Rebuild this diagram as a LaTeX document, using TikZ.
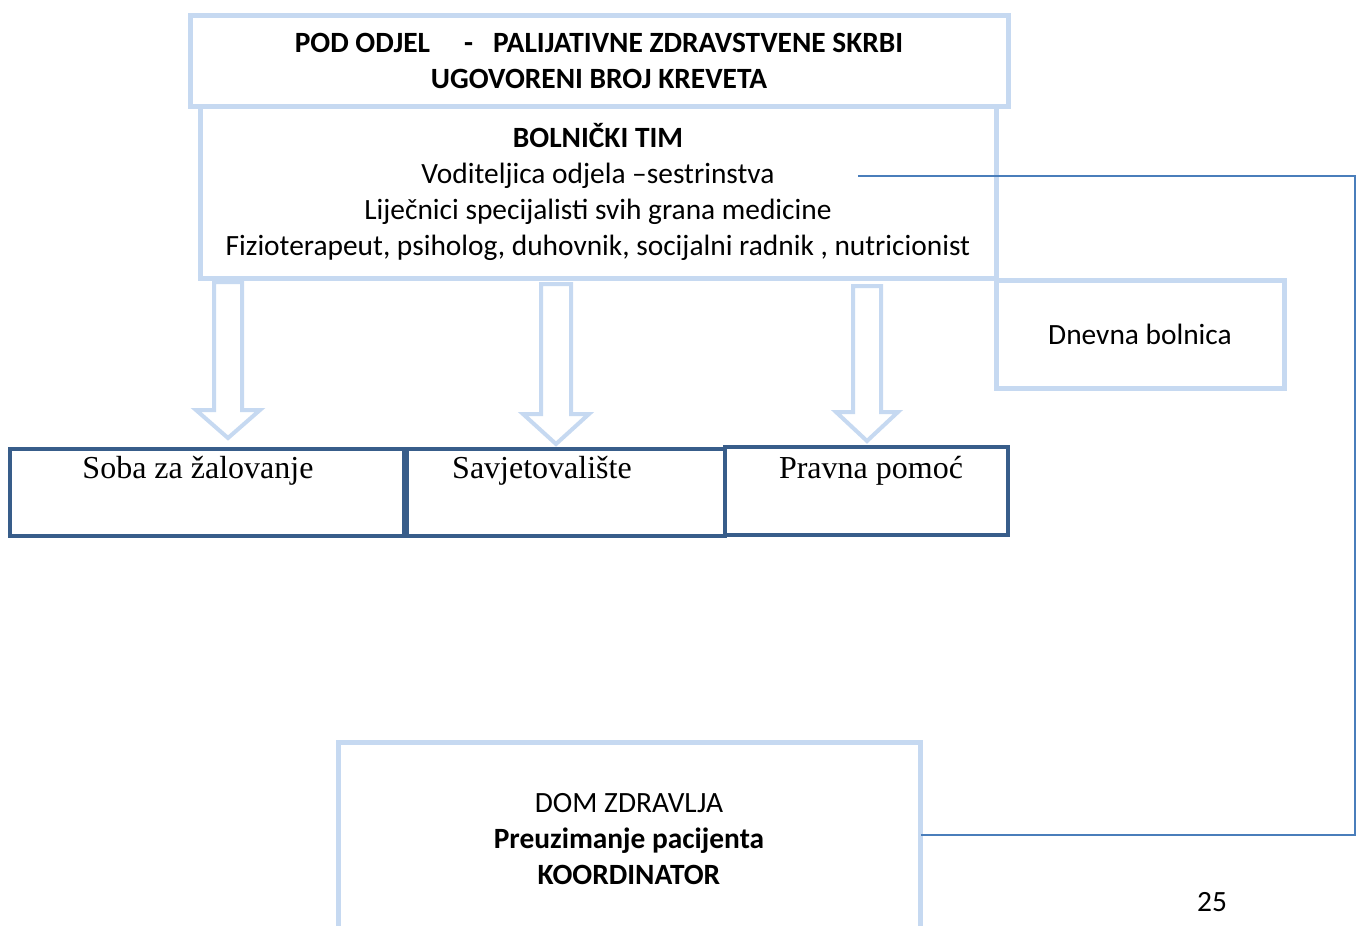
\documentclass[tikz,border=0pt]{standalone}
\usepackage{fontspec}
\setmainfont{Carlito}
\newfontfamily\timesfont{Liberation Serif}
\definecolor{lightblue}{HTML}{C6D9F1}
\definecolor{darkblue}{HTML}{385D8A}
\definecolor{linkblue}{HTML}{4A7EBB}
\tikzset{
  lbox/.style={draw=lightblue, line width=2.5pt, inner sep=0pt, align=center,
    font=\fontsize{14.7}{18}\selectfont},
  dbox/.style={draw=darkblue, line width=2pt, inner sep=0pt},
  hollow/.style={draw=lightblue, line width=2pt, line join=miter, fill=white},
  link/.style={draw=linkblue, line width=0.8pt},
  ttext/.style={font=\timesfont\fontsize{16}{18}\selectfont, inner sep=0pt},
  ctext/.style={font=\fontsize{14.7}{18}\selectfont, inner sep=0pt, align=center},
}
\begin{document}
\begin{tikzpicture}[x=0.5pt, y=-0.5pt]
    \useasboundingbox (0,0) rectangle (1357,926);

    % hospital team and department
    \node[lbox, minimum width=398pt, minimum height=86pt] (tim) at (598,192)
      {\textbf{BOLNIČKI TIM}\\Voditeljica odjela –sestrinstva\\Liječnici specijalisti svih grana medicine\\Fizioterapeut, psiholog, duhovnik, socijalni radnik , nutricionist};
    \node[lbox, minimum width=409pt, minimum height=45.5pt] (odjel) at (599,60.5)
      {\textbf{POD ODJEL\hspace{17pt}-\hspace{10pt}PALIJATIVNE ZDRAVSTVENE SKRBI}\\\textbf{UGOVORENI BROJ KREVETA}};
    \node[lbox, minimum width=144pt, minimum height=54pt] (dnevna) at (1140,334) {Dnevna bolnica};

    % hollow arrows
    \draw[hollow] (214,282) -- (214,410) -- (196,410) -- (228,438) -- (260,410) -- (242,410) -- (242,282) -- cycle;
    \draw[hollow] (541,284) -- (541,414) -- (523,414) -- (556,444) -- (589,414) -- (571,414) -- (571,284) -- cycle;
    \draw[hollow] (853,286) -- (853,412) -- (836,412) -- (867,441) -- (898,412) -- (881,412) -- (881,286) -- cycle;

    % services
    \node[dbox, minimum width=197pt, minimum height=43.5pt] (soba) at (207,492.5) {};
    \node[dbox, minimum width=159pt, minimum height=43.5pt] (savjet) at (566,492.5) {};
    \node[dbox, minimum width=141.5pt, minimum height=44pt] (pravna) at (866.5,491) {};
    \node[ttext] (sobat) at (198,471) {Soba za žalovanje};
    \node[ttext] (savjett) at (542,471) {Savjetovalište};
    \node[ttext] (pravnat) at (871,471) {Pravna pomoć};

    % health centre
    \draw[lbox] (338,926) -- (338,742) -- (920,742) -- (920,926);
    \node[ctext] (dom) at (629,839) {DOM ZDRAVLJA\\\textbf{Preuzimanje pacijenta}\\\textbf{KOORDINATOR}};

    \coordinate (vodend) at (858,176);
    \coordinate (turn) at (1355,176);
    \coordinate (domright) at (921,835);
    \draw[link] (vodend) -- (turn) |- (domright);

    \node[ctext] (page) at (1212,902) {25};
\end{tikzpicture}
\end{document}
